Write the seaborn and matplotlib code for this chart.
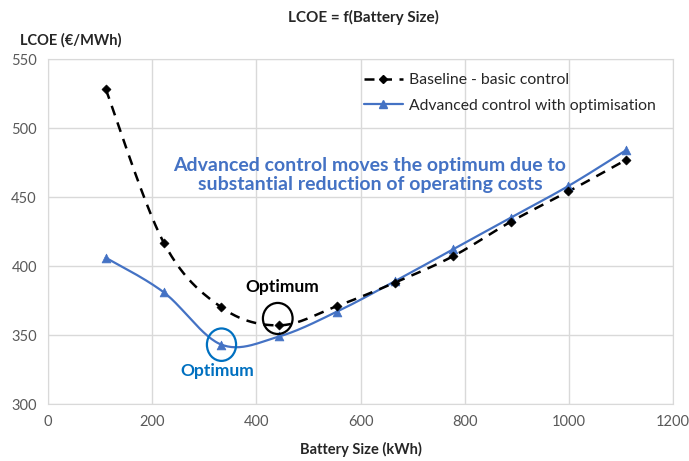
import numpy as np
import pandas as pd
import seaborn as sns
import matplotlib.pyplot as plt
from matplotlib.lines import Line2D
from matplotlib.patches import Ellipse

## data ##
battery_kwh = [111, 222, 333, 444, 555, 666, 777, 888, 999, 1110]
baseline = [528, 417, 370, 357, 371, 388, 407, 432, 454, 477]
advanced = [406, 381, 343, 349, 367, 389, 412, 435, 458, 484]
baseline_label = "Baseline - basic control"
advanced_label = "Advanced control with optimisation"

BLUE = "#4472C4"
GRID = "#D9D9D9"


def smooth(xs, ys, n=30):
    """Catmull-Rom curve through the points (like Excel's smoothed line)."""
    p = np.column_stack([xs, ys]).astype(float)
    p = np.vstack([p[0], p, p[-1]])
    out = []
    for i in range(1, len(p) - 2):
        p0, p1, p2, p3 = p[i - 1], p[i], p[i + 1], p[i + 2]
        c1 = p1 + (p2 - p0) / 6
        c2 = p2 - (p3 - p1) / 6
        t = np.linspace(0, 1, n)[:, None]
        seg = ((1 - t) ** 3) * p1 + 3 * ((1 - t) ** 2) * t * c1 \
            + 3 * (1 - t) * t ** 2 * c2 + t ** 3 * p2
        out.append(seg if i == 1 else seg[1:])
    seg = np.vstack(out)
    return seg[:, 0], seg[:, 1]


sns.set_style("white")
plt.rcParams['font.family'] = ['Lato', 'DejaVu Sans']

fig = plt.figure(figsize=(6.89, 4.61), dpi=100)
ax = fig.add_axes([0.0697, 0.1236, 0.977 - 0.0697, 0.872 - 0.1236])

df = pd.DataFrame({"x": battery_kwh, "base": baseline, "adv": advanced})

# smoothed lines
bx, by = smooth(df.x, df.base)
ax_, ay = smooth(df.x, df.adv)
sns.lineplot(x=ax_, y=ay, sort=False, color=BLUE, lw=1.6, ax=ax, zorder=3)
sns.lineplot(x=bx, y=by, sort=False, color="black", lw=1.8, ax=ax,
             zorder=4, linestyle=(0, (4, 3)))
sns.scatterplot(data=df, x="x", y="adv", marker="^", s=40, color=BLUE,
                edgecolor=BLUE, ax=ax, zorder=5)
sns.scatterplot(data=df, x="x", y="base", marker="D", s=22, color="black",
                edgecolor="black", ax=ax, zorder=6)

ax.set_xlim(0, 1200)
ax.set_ylim(300, 550)
ax.set_xticks(range(0, 1201, 200))
ax.set_yticks(range(300, 551, 50))
ax.grid(True, color=GRID, lw=1)
ax.set_axisbelow(True)
for s in ax.spines.values():
    s.set_color(GRID)
ax.tick_params(colors="#595959", labelsize=10.5, length=0, pad=8)
ax.set_xlabel("Battery Size (kWh)", fontsize=10.5, fontweight="bold", labelpad=9)
ax.set_ylabel("")

fig.text(0.528, 0.963, "LCOE = f(Battery Size)", ha="center", va="center",
         fontsize=11, fontweight="bold")
fig.text(0.029, 0.913, "LCOE (€/MWh)", ha="left", va="center",
         fontsize=10.5, fontweight="bold")

# optimum markers
ax.add_patch(Ellipse((441, 362), 57, 22.5, fill=False, ec="black", lw=1.6, zorder=7))
ax.add_patch(Ellipse((333, 343), 56, 23.5, fill=False, ec="#0070C0", lw=1.6, zorder=7))
ax.text(450, 385, "Optimum", ha="center", va="center", fontsize=12.5,
        fontweight="bold", color="black")
ax.text(324, 324, "Optimum", ha="center", va="center", fontsize=12.5,
        fontweight="bold", color="#0070C0")
ax.text(618, 466, "Advanced control moves the optimum due to\nsubstantial reduction of operating costs",
        ha="center", va="center", fontsize=14, fontweight="bold", color=BLUE,
        linespacing=1.15)

handles = [
    Line2D([], [], color="black", lw=1.8, linestyle=(0, (4, 3)), marker="D", ms=4.5),
    Line2D([], [], color=BLUE, lw=1.6, marker="^", ms=6),
]
ax.legend(handles, [baseline_label, advanced_label], loc="upper right",
          bbox_to_anchor=(0.995, 1.0), frameon=False, fontsize=11.3,
          handlelength=2.5, handletextpad=0.4, labelspacing=0.75)

fig.savefig("out.png", dpi=100)
